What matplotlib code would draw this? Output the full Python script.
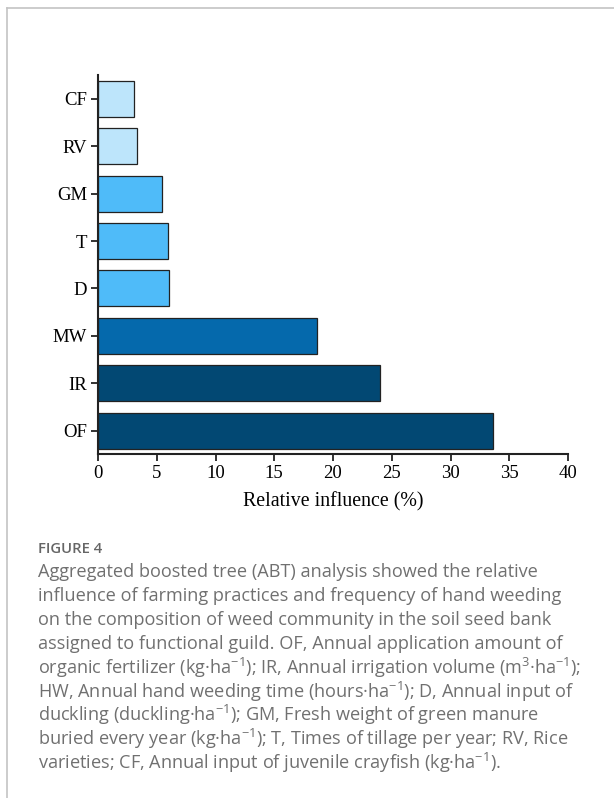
import matplotlib.pyplot as plt
from matplotlib.lines import Line2D

# relative influence of each factor, bottom to top
factors = ['OF', 'IR', 'MW', 'D', 'T', 'GM', 'RV', 'CF']
influence = [33.6, 24.0, 18.6, 6.03, 5.98, 5.48, 3.3, 3.06]
colors = ['#024873', '#024873', '#0569AC', '#4FBBF9', '#4FBBF9', '#4FBBF9',
          '#BDE5FB', '#BDE5FB']
xticks = [0, 5, 10, 15, 20, 25, 30, 35, 40]

caption_lines = [
    'Aggregated boosted tree (ABT) analysis showed the relative',
    'influence of farming practices and frequency of hand weeding',
    'on the composition of weed community in the soil seed bank',
    'assigned to functional guild. OF, Annual application amount of',
    r'organic fertilizer (kg·ha$^{-1}$); IR, Annual irrigation volume (m$^{3}$·ha$^{-1}$);',
    r'HW, Annual hand weeding time (hours·ha$^{-1}$); D, Annual input of',
    r'duckling (duckling·ha$^{-1}$); GM, Fresh weight of green manure',
    r'buried every year (kg·ha$^{-1}$); T, Times of tillage per year; RV, Rice',
    r'varieties; CF, Annual input of juvenile crayfish (kg·ha$^{-1}$).',
]

plt.rcParams['mathtext.fontset'] = 'custom'
plt.rcParams['mathtext.rm'] = 'Open Sans'
plt.rcParams['mathtext.it'] = 'Open Sans'

fig = plt.figure(figsize=(6.14, 7.98), dpi=100)
fig.patch.set_facecolor('white')

# card border
fig.add_artist(Line2D([7 / 614, 1], [1 - 8 / 798, 1 - 8 / 798], color='#c4c4c4', lw=1.2))
fig.add_artist(Line2D([7 / 614, 7 / 614], [0, 1 - 8 / 798], color='#c4c4c4', lw=1.2))

ax = fig.add_axes([98 / 614, 1 - 454 / 798, 470 / 614, 379 / 798])
ypos = list(range(len(factors)))
ax.barh(ypos, influence, height=0.76, color=colors, edgecolor='#222222', linewidth=0.9)

ax.set_xlim(0, 40)
ax.set_ylim(-0.49, 7.5)
ax.set_xticks(xticks)
ax.set_yticks(ypos)
ax.set_yticklabels(factors)
serif = 'Liberation Serif'
for lab in ax.get_xticklabels() + ax.get_yticklabels():
    lab.set_fontfamily(serif)
    lab.set_fontsize(13.5)
ax.tick_params(direction='out', length=5, width=1.3, color='#222222', pad=3)
ax.set_xlabel('Relative influence (%)', fontfamily=serif, fontsize=14.3, labelpad=7)
for side in ['top', 'right']:
    ax.spines[side].set_visible(False)
for side in ['left', 'bottom']:
    ax.spines[side].set_linewidth(1.5)
    ax.spines[side].set_color('#222222')

fig.text(38 / 614, 1 - 549 / 798, 'FIGURE 4', fontfamily='Open Sans', fontsize=10.7,
         fontweight='semibold', color='#666666', va='center', ha='left')
for i, line in enumerate(caption_lines):
    fig.text(38 / 614, 1 - (572 + 23.9 * i) / 798, line, fontfamily='Open Sans',
             fontsize=13.1, color='#707070', va='center', ha='left')

fig.savefig('out.png', dpi=100)
